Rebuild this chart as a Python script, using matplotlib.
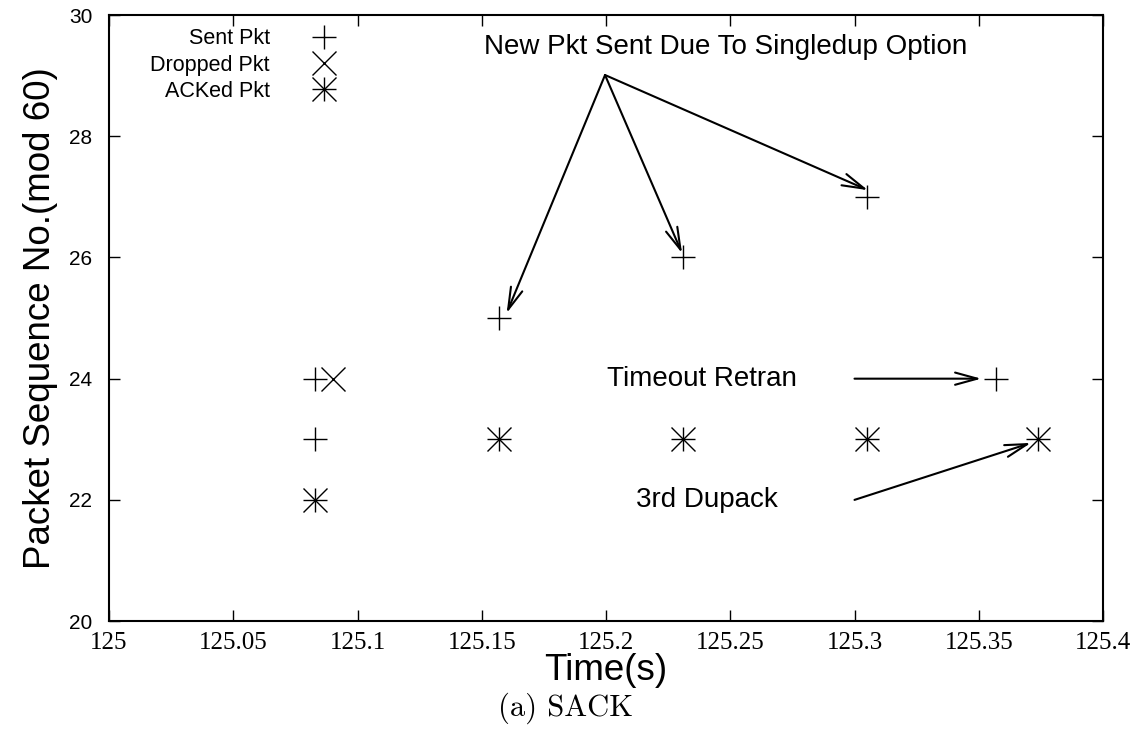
import numpy as np
import matplotlib
matplotlib.use('Agg')
import matplotlib.pyplot as plt
from matplotlib.legend_handler import HandlerTuple

# packet events (time in s, sequence no. mod 60)
sent_t = [125.083, 125.083, 125.157, 125.231, 125.305, 125.357]
sent_seq = [23, 24, 25, 26, 27, 24]
drop_t = [125.090]
drop_seq = [24]
ack_t = [125.083, 125.157, 125.231, 125.305, 125.374]
ack_seq = [22, 23, 23, 23, 23]

xticks = [125, 125.05, 125.1, 125.15, 125.2, 125.25, 125.3, 125.35, 125.4]
xticklabels = ['125', '125.05', '125.1', '125.15', '125.2', '125.25', '125.3', '125.35', '125.4']
yticks = [20, 22, 24, 26, 28, 30]

# annotations: arrows from a common point to the new packets
new_pkt_src = (125.1996, 29.01)
new_pkt_tips = [(125.160, 25.08), (125.2306, 26.07), (125.3054, 27.11)]
timeout_src, timeout_tip = (125.300, 24), (125.351, 24)
dupack_src, dupack_tip = (125.300, 22.0), (125.371, 22.94)

plt.rcParams['font.family'] = 'Liberation Sans'

fig = plt.figure(figsize=(11.43, 7.29), dpi=100)
ax = fig.add_axes([0.0954, 0.148, 0.8696, 0.8314])

ms = 17
kw = dict(linestyle='none', color='black', markersize=ms, markeredgewidth=1.0)
h_sent, = ax.plot(sent_t, sent_seq, marker='+', **kw)
h_drop, = ax.plot(drop_t, drop_seq, marker='x', **kw)
h_ack1, = ax.plot(ack_t, ack_seq, marker='+', **kw)
h_ack2, = ax.plot(ack_t, ack_seq, marker='x', **kw)

ax.legend([h_sent, h_drop, (h_ack1, h_ack2)], ['Sent Pkt', 'Dropped Pkt', 'ACKed Pkt'],
          handler_map={tuple: HandlerTuple(ndivide=1, pad=0)},
          loc='upper left', bbox_to_anchor=(0.033, 0.992), frameon=False,
          markerfirst=False, fontsize=15.5, handlelength=2.0, handletextpad=1.5,
          labelspacing=0.24, borderaxespad=0, numpoints=1)

aprops = dict(arrowstyle='->,head_length=0.8,head_width=0.22', color='black',
              lw=1.5, shrinkA=0, shrinkB=0, mutation_scale=20)
for tip in new_pkt_tips:
    ax.annotate('', xy=tip, xytext=new_pkt_src, arrowprops=aprops)
ax.annotate('', xy=timeout_tip, xytext=timeout_src, arrowprops=aprops)
ax.annotate('', xy=dupack_tip, xytext=dupack_src, arrowprops=aprops)

ax.text(125.151, 29.47, 'New Pkt Sent Due To Singledup Option', fontsize=20, va='center')
ax.text(125.2005, 24, 'Timeout Retran', fontsize=20, va='center')
ax.text(125.212, 22, '3rd Dupack', fontsize=20, va='center')

ax.set_xlim(125, 125.4)
ax.set_ylim(20, 30)
ax.set_xticks(xticks)
ax.set_xticklabels(xticklabels, fontfamily='Liberation Serif', fontsize=18)
ax.set_yticks(yticks)
ax.tick_params(axis='y', labelsize=15, pad=12)
ax.tick_params(axis='x', pad=8)
ax.tick_params(direction='in', length=8, width=1, top=True, right=True)
for s in ax.spines.values():
    s.set_linewidth(1.5)

ax.set_xlabel('Time(s)', fontsize=26.5, labelpad=-1)
ax.set_ylabel('Packet Sequence No.(mod 60)', fontsize=26.5, labelpad=8)
fig.text(0.495, 0.028, '(a) SACK', fontfamily='cmr10', fontsize=22, ha='center', va='center')

fig.savefig('out.png', dpi=100)
